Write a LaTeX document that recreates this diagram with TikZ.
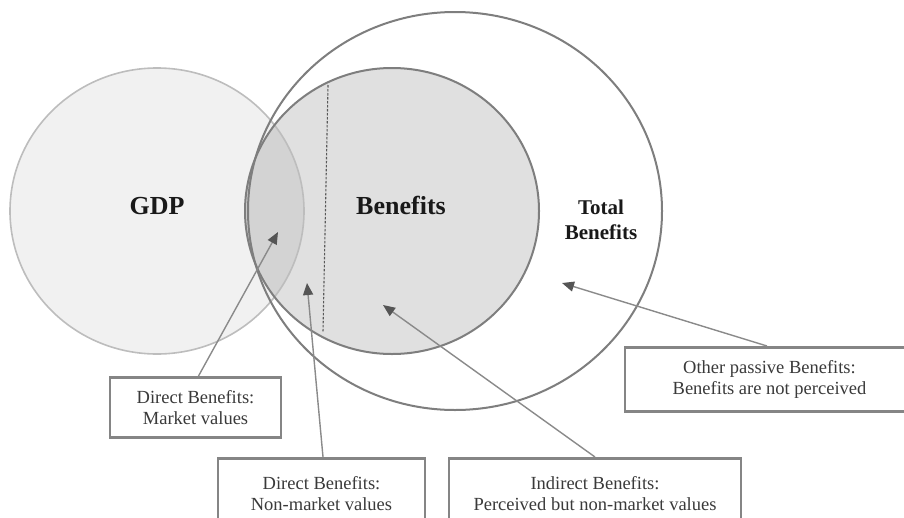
\documentclass[tikz,border=0pt]{standalone}
\usepackage{fontspec}
\setmainfont{Liberation Serif}
\usetikzlibrary{arrows.meta,shapes.geometric}
\definecolor{gdpfill}{HTML}{F1F1F1}
\definecolor{gdpline}{HTML}{BDBDBD}
\definecolor{benfill}{HTML}{E0E0E0}
\definecolor{lensfill}{HTML}{D3D3D3}
\definecolor{darkline}{HTML}{7E7E7E}
\definecolor{boxline}{HTML}{858585}
\definecolor{arrline}{HTML}{8A8A8A}
\definecolor{tipfill}{HTML}{555555}
\definecolor{boxtext}{HTML}{3A3A3A}
\tikzset{
  infobox/.style={draw=boxline, line width=2.6pt, fill=white, align=center,
    inner xsep=0pt, inner ysep=13pt, anchor=north, text=boxtext,
    font=\fontsize{18.5}{21}\selectfont},
  bigtag/.style={font=\fontsize{26}{30}\selectfont\bfseries, text=black!90},
  pointer/.style={draw=arrline, line width=1.4pt,
    -{Triangle[length=12pt,width=10pt,fill=tipfill,color=tipfill]}},
}
\begin{document}
\begin{tikzpicture}[x=1pt,y=-1pt]
\useasboundingbox (0,0) rectangle (904,517);
\clip (0,0) rectangle (904,517);
% fills
\fill[white] (455,211) ellipse [x radius=207pt, y radius=199pt];
\fill[gdpfill] (157,211) ellipse [x radius=147pt, y radius=143pt];
\fill[benfill] (392,211) ellipse [x radius=147pt, y radius=143pt];
\begin{scope}
  \clip (157,211) ellipse [x radius=147pt, y radius=143pt];
  \fill[lensfill] (392,211) ellipse [x radius=147pt, y radius=143pt];
\end{scope}
% outlines as named nodes
\node[ellipse, draw=gdpline, line width=1.6pt, minimum width=294pt, minimum height=286pt, inner sep=0pt] (gdp) at (157,211) {};
\node[ellipse, draw=darkline, line width=2pt, minimum width=294pt, minimum height=286pt, inner sep=0pt] (ben) at (392,211) {};
\node[ellipse, draw=darkline, line width=2pt, minimum width=414pt, minimum height=398pt, inner sep=0pt] (tot) at (455,211) {};
% dashed divider
\coordinate (dtop) at (328,85);
\coordinate (dbot) at (323,332);
\draw[black!65, line width=1.1pt, dash pattern=on 2.5pt off 1.5pt] (dtop) -- (dbot);
% labels
\node[bigtag] (lgdp) at (157,206) {GDP};
\node[bigtag] (lben) at (401,205) {Benefits};
\node[align=center, font=\fontsize{21}{25}\selectfont\bfseries, text=black!90] (ltot) at (601,220) {Total\\Benefits};
% boxes
\node[infobox, minimum width=171pt] (bm) at (195.5,376) {Direct Benefits:\\Market values};
\node[infobox, minimum width=207pt, minimum height=70pt] (bn) at (321.5,457) {Direct Benefits:\\Non-market values};
\node[infobox, minimum width=292pt, minimum height=70pt] (bi) at (595,457) {Indirect Benefits:\\Perceived but non-market values};
\node[infobox, minimum width=289pt] (bo) at (769.5,346) {Other passive Benefits:\\Benefits are not perceived};
% arrow targets
\coordinate (t1) at (278,232);
\coordinate (t2) at (307,283);
\coordinate (t3) at (383,305);
\coordinate (t4) at (562,283);
\draw[pointer] ([xshift=3pt]bm.north) -- (t1);
\draw[pointer] ([xshift=1.5pt]bn.north) -- (t2);
\draw[pointer] (bi.north) -- (t3);
\draw[pointer] ([xshift=-2.5pt]bo.north) -- (t4);
\end{tikzpicture}
\end{document}
